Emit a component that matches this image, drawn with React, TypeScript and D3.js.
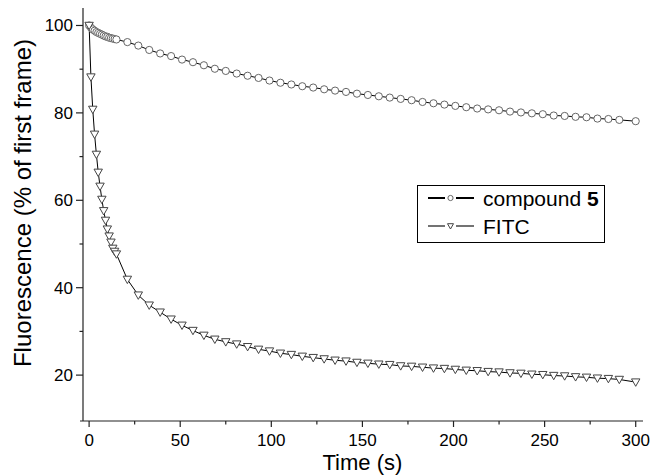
import React, { useEffect, useRef } from "react";
import * as d3 from "d3";

// time points (s)
const timeS = [
  0, 1, 2, 3, 4, 5, 6, 7, 8, 9, 10, 11, 12, 13, 14, 15, 21, 27, 33, 39, 45, 51,
  57, 63, 69, 75, 81, 87, 93, 99, 105, 111, 117, 123, 129, 135, 141, 147, 153,
  159, 165, 171, 177, 183, 189, 195, 201, 207, 213, 219, 225, 231, 237, 243,
  249, 255, 261, 267, 273, 279, 285, 291, 300,
];

const compound5 = [
  100, 99.5, 99.1, 98.8, 98.5, 98.3, 98.1, 97.9, 97.7, 97.5, 97.4, 97.2, 97.1,
  97.0, 96.9, 96.8, 96.2, 95.4, 94.4, 93.6, 93.0, 92.2, 91.6, 90.9, 90.1, 89.6,
  89.0, 88.5, 88.0, 87.4, 86.9, 86.5, 86.1, 85.8, 85.4, 85.1, 84.8, 84.4, 84.1,
  83.8, 83.5, 83.2, 82.9, 82.5, 82.2, 81.9, 81.6, 81.3, 81.0, 80.8, 80.6, 80.3,
  80.1, 79.9, 79.7, 79.4, 79.3, 79.1, 79.0, 78.7, 78.6, 78.4, 78.1,
];

const fitc = [
  100, 88.2, 80.8, 75.1, 70.5, 66.4, 63.2, 60.2, 57.6, 55.4, 53.4, 51.8, 50.4,
  49.0, 48.3, 47.7, 41.9, 38.3, 36.0, 34.4, 32.8, 31.4, 30.2, 29.1, 28.2, 27.6,
  27.1, 26.5, 25.9, 25.5, 25.0, 24.7, 24.3, 24.0, 23.7, 23.4, 23.2, 22.9, 22.7,
  22.5, 22.4, 22.1, 22.0, 21.8, 21.6, 21.5, 21.3, 21.1, 21.0, 20.8, 20.7, 20.5,
  20.4, 20.2, 20.1, 19.9, 19.8, 19.6, 19.5, 19.3, 19.2, 19.0, 18.4,
];

const xTicks = [0, 50, 100, 150, 200, 250, 300];
const xMinor = [25, 75, 125, 175, 225, 275];
const yTicks = [20, 40, 60, 80, 100];
const yMinor = [30, 50, 70, 90];

const FONT = "'Liberation Sans', Arial, sans-serif";
const triPath = "M-4.2,-3.2L4.2,-3.2L0,4.2Z";

const App = () => {
  const svgRef = useRef(null);

  useEffect(() => {
    document.body.style.margin = "0";
    const svg = d3.select(svgRef.current);
    svg.selectAll("*").remove();

    const x = d3.scaleLinear().domain([-5, 304]).range([80, 643]);
    const y = d3.scaleLinear().domain([9.5, 104]).range([421, 8]);
    const axisX = 83;
    const axisY = 421;

    // axes lines
    svg.append("line").attr("x1", 80).attr("x2", 643).attr("y1", axisY).attr("y2", axisY)
      .attr("stroke", "#222").attr("stroke-width", 1.2);
    svg.append("line").attr("x1", axisX).attr("x2", axisX).attr("y1", 8).attr("y2", axisY)
      .attr("stroke", "#222").attr("stroke-width", 1.2);

    // x ticks
    const gx = svg.append("g");
    xTicks.forEach((t) => {
      gx.append("line").attr("x1", x(t)).attr("x2", x(t)).attr("y1", axisY).attr("y2", axisY + 6)
        .attr("stroke", "#222").attr("stroke-width", 1.2);
      gx.append("text").attr("x", x(t)).attr("y", axisY + 25).attr("text-anchor", "middle")
        .attr("font-family", FONT).attr("font-size", 17).text(t);
    });
    xMinor.forEach((t) => {
      gx.append("line").attr("x1", x(t)).attr("x2", x(t)).attr("y1", axisY).attr("y2", axisY + 3.5)
        .attr("stroke", "#222").attr("stroke-width", 1.2);
    });

    // y ticks
    const gy = svg.append("g");
    yTicks.forEach((t) => {
      gy.append("line").attr("x1", axisX - 7).attr("x2", axisX).attr("y1", y(t)).attr("y2", y(t))
        .attr("stroke", "#222").attr("stroke-width", 1.2);
      gy.append("text").attr("x", axisX - 10).attr("y", y(t) + 6).attr("text-anchor", "end")
        .attr("font-family", FONT).attr("font-size", 17).text(t);
    });
    yMinor.forEach((t) => {
      gy.append("line").attr("x1", axisX - 3.5).attr("x2", axisX).attr("y1", y(t)).attr("y2", y(t))
        .attr("stroke", "#222").attr("stroke-width", 1.2);
    });

    // titles
    svg.append("text").attr("x", x(150)).attr("y", 470).attr("text-anchor", "middle")
      .attr("font-family", FONT).attr("font-size", 22).text("Time (s)");
    svg.append("text").attr("transform", "translate(31,203) rotate(-90)")
      .attr("text-anchor", "middle").attr("font-family", FONT).attr("font-size", 24)
      .text("Fluorescence (% of first frame)");

    const line = d3.line()
      .x((d) => x(d[0]))
      .y((d) => y(d[1]));

    const c5 = timeS.map((t, i) => [t, compound5[i]]);
    const ft = timeS.map((t, i) => [t, fitc[i]]);

    svg.append("path").attr("d", line(c5)).attr("fill", "none").attr("stroke", "#000").attr("stroke-width", 1);
    svg.append("path").attr("d", line(ft)).attr("fill", "none").attr("stroke", "#000").attr("stroke-width", 1);

    svg.append("g").selectAll("circle").data(c5).enter().append("circle")
      .attr("cx", (d) => x(d[0])).attr("cy", (d) => y(d[1])).attr("r", 3.6)
      .attr("fill", "#fff").attr("stroke", "#666").attr("stroke-width", 1);

    svg.append("g").selectAll("path").data(ft).enter().append("path")
      .attr("d", triPath)
      .attr("transform", (d) => `translate(${x(d[0])},${y(d[1])})`)
      .attr("fill", "#fff").attr("stroke", "#444").attr("stroke-width", 1);

    // legend
    const lg = svg.append("g");
    lg.append("rect").attr("x", 417.5).attr("y", 185.5).attr("width", 187).attr("height", 57)
      .attr("fill", "#fff").attr("stroke", "#000").attr("stroke-width", 1);
    const r1 = 198;
    const r2 = 226;
    lg.append("line").attr("x1", 428).attr("x2", 445).attr("y1", r1).attr("y2", r1).attr("stroke", "#000").attr("stroke-width", 2);
    lg.append("line").attr("x1", 456).attr("x2", 474).attr("y1", r1).attr("y2", r1).attr("stroke", "#000").attr("stroke-width", 2);
    lg.append("circle").attr("cx", 450.5).attr("cy", r1).attr("r", 2.6).attr("fill", "#fff").attr("stroke", "#666");
    lg.append("line").attr("x1", 428).attr("x2", 445).attr("y1", r2).attr("y2", r2).attr("stroke", "#000").attr("stroke-width", 1.1);
    lg.append("line").attr("x1", 456).attr("x2", 474).attr("y1", r2).attr("y2", r2).attr("stroke", "#000").attr("stroke-width", 1.1);
    lg.append("path").attr("d", "M-3,-2.3L3,-2.3L0,3Z").attr("transform", `translate(450.5,${r2})`)
      .attr("fill", "#fff").attr("stroke", "#444");
    const t1 = lg.append("text").attr("x", 483).attr("y", r1 + 7.5).attr("font-family", FONT).attr("font-size", 21);
    t1.append("tspan").text("compound ");
    t1.append("tspan").attr("font-weight", "bold").text("5");
    lg.append("text").attr("x", 483).attr("y", r2 + 7.5).attr("font-family", FONT).attr("font-size", 21).text("FITC");
  }, []);

  return <svg ref={svgRef} width={652} height={476} style={{ display: "block" }} />;
};

export default App;
